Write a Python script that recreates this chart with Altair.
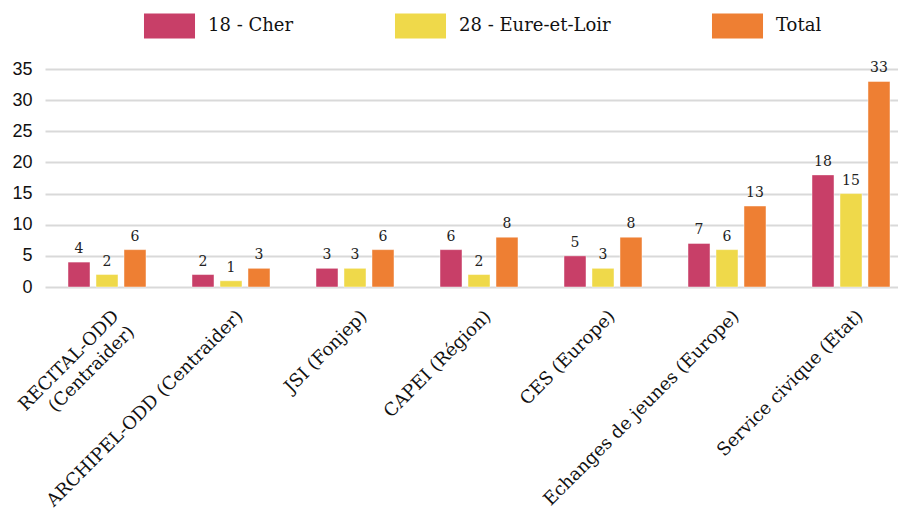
import altair as alt
import pandas as pd

categories = [
    "RECITAL-ODD (Centraider)",
    "ARCHIPEL-ODD (Centraider)",
    "JSI (Fonjep)",
    "CAPEI (Région)",
    "CES (Europe)",
    "Echanges de jeunes (Europe)",
    "Service civique (Etat)",
]
series = ["18 - Cher", "28 - Eure-et-Loir", "Total"]
cher = [4, 2, 3, 6, 5, 7, 18]
eure = [2, 1, 3, 2, 3, 6, 15]
total = [6, 3, 6, 8, 8, 13, 33]
colors = ["#C83F68", "#EFD94A", "#EE7F33"]
y_ticks = [0, 5, 10, 15, 20, 25, 30, 35]

rows = []
for i, c in enumerate(categories):
    for s, vals in zip(series, [cher, eure, total]):
        rows.append({"cat": c, "serie": s, "value": vals[i]})
df = pd.DataFrame(rows)

label_expr = (
    "datum.label == 'RECITAL-ODD (Centraider)' ? "
    "['RECITAL-ODD', '(Centraider)'] : datum.label"
)

x = alt.X(
    "cat:N",
    sort=categories,
    scale=alt.Scale(range=[0, 868], paddingInner=0.371, paddingOuter=0.1855),
    axis=alt.Axis(
        title=None,
        labelAngle=-45,
        labelAlign="right",
        labelBaseline="top",
        labelFont="DejaVu Serif",
        labelFontSize=18,
        labelColor="#111111",
        labelLimit=500,
        labelPadding=20,
        labelOffset=3,
        labelExpr=label_expr,
        labelLineHeight=22,
        domain=False,
        ticks=False,
    ),
)
xoff = alt.XOffset(
    "serie:N", sort=series, scale=alt.Scale(paddingInner=0.214, paddingOuter=0)
)
y = alt.Y(
    "value:Q",
    scale=alt.Scale(domain=[0, 35], nice=False),
    axis=alt.Axis(
        title=None,
        values=y_ticks,
        grid=True,
        gridColor="#D9D9D9",
        gridWidth=2,
        domain=False,
        ticks=False,
        labelFont="Liberation Sans",
        labelFontSize=18,
        labelColor="#111111",
        labelPadding=13,
    ),
)
color = alt.Color(
    "serie:N",
    sort=series,
    scale=alt.Scale(domain=series, range=colors),
    legend=alt.Legend(
        title=None,
        orient="none",
        legendX=111,
        legendY=-57,
        direction="horizontal",
        symbolType="M-1.89,-0.93H1.89V0.93H-1.89Z",
        symbolSize=729,
        symbolStrokeWidth=0,
        symbolOpacity=1,
        labelFont="DejaVu Serif",
        labelFontSize=18,
        labelColor="#111111",
        labelOffset=25,
        columnPadding=100,
        padding=0,
        labelLimit=400,
    ),
)

bars = alt.Chart(df).mark_bar(
    stroke="white", strokeWidth=1, strokeOpacity=0.45
).encode(x=x, xOffset=xoff, y=y, color=color)

labels = alt.Chart(df).mark_text(
    baseline="bottom", dy=-6, font="DejaVu Serif", fontSize=14, color="#222222"
).encode(x=x, xOffset=xoff, y=y, text="value:Q")

chart = (
    alt.layer(bars, labels)
    .properties(
        width=853,
        height=218,
        autosize=alt.AutoSizeParams(type="none"),
        padding={"left": 37, "top": 61, "right": 0, "bottom": 223},
    )
    .configure_view(stroke=None)
    .configure_legend(labelFont="DejaVu Serif", labelFontSize=18)
)

chart.save("out.html", embed_options={"renderer": "svg", "actions": False})
